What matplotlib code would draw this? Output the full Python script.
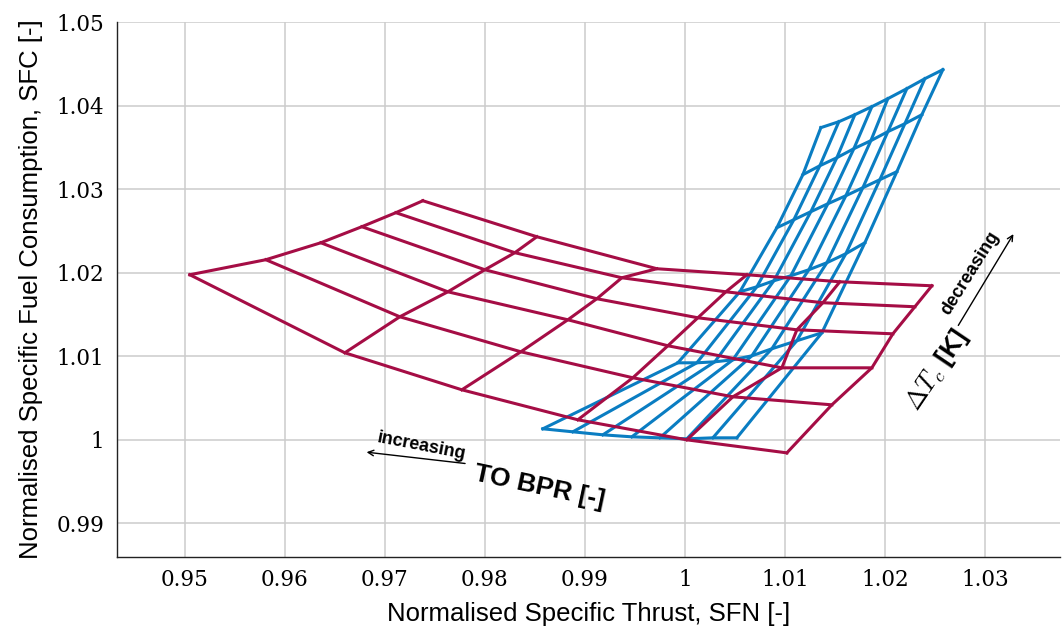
import matplotlib
matplotlib.use("Agg")
import matplotlib.pyplot as plt

# ---------------- data ----------------
# Red carpet (TO BPR / dTc grid): rows r0..r5 (top -> bottom), 6 nodes each
red_sfn = [
    [0.9738, 0.9852, 0.9972, 1.0062, 1.0155, 1.0247],
    [0.9711, 0.9830, 0.9937, 1.0041, 1.0138, 1.0230],
    [0.9677, 0.9800, 0.9912, 1.0013, 1.0112, 1.0208],
    [0.9636, 0.9763, 0.9883, 0.9983, 1.0097, 1.0187],
    [0.9581, 0.9715, 0.9836, 0.9948, 1.0048, 1.0147],
    [0.9505, 0.9660, 0.9777, 0.9893, 1.0002, 1.0102],
]
red_sfc = [
    [1.02862, 1.02431, 1.02048, 1.01976, 1.01892, 1.01844],
    [1.02719, 1.02240, 1.01940, 1.01772, 1.01641, 1.01593],
    [1.02551, 1.02036, 1.01689, 1.01461, 1.01317, 1.01269],
    [1.02359, 1.01772, 1.01437, 1.01126, 1.00862, 1.00862],
    [1.02156, 1.01473, 1.01054, 1.00743, 1.00515, 1.00419],
    [1.01976, 1.01042, 1.00599, 1.00240, 1.00000, 0.99844],
]

# Blue carpet: rows R0..R5 (top -> bottom), 8 nodes each
blue_sfn = [
    [1.0136, 1.0154, 1.0170, 1.0187, 1.0203, 1.0222, 1.0240, 1.0258],
    [1.0118, 1.0135, 1.0152, 1.0169, 1.0186, 1.0203, 1.0220, 1.0237],
    [1.0092, 1.0109, 1.0126, 1.0143, 1.0161, 1.0178, 1.0195, 1.0212],
    [1.0055, 1.0072, 1.0089, 1.0106, 1.0124, 1.0142, 1.0161, 1.0180],
    [0.9993, 1.0012, 1.0030, 1.0048, 1.0067, 1.0087, 1.0112, 1.0137],
    [0.9858, 0.9888, 0.9918, 0.9947, 0.9975, 1.0002, 1.0028, 1.0052],
]
blue_sfc = [
    [1.03737, 1.03808, 1.03892, 1.03988, 1.04084, 1.04204, 1.04323, 1.04431],
    [1.03174, 1.03281, 1.03377, 1.03485, 1.03581, 1.03689, 1.03784, 1.03892],
    [1.02539, 1.02635, 1.02731, 1.02826, 1.02922, 1.03018, 1.03114, 1.03210],
    [1.01772, 1.01832, 1.01904, 1.01964, 1.02036, 1.02120, 1.02228, 1.02359],
    [1.00922, 1.00922, 1.00934, 1.00958, 1.01006, 1.01090, 1.01186, 1.01281],
    [1.00132, 1.00096, 1.00060, 1.00036, 1.00024, 1.00012, 1.00024, 1.00024],
]

x_ticks = [0.95, 0.96, 0.97, 0.98, 0.99, 1.00, 1.01, 1.02, 1.03]
x_ticklabels = ["0.95", "0.96", "0.97", "0.98", "0.99", "1", "1.01", "1.02", "1.03"]
y_ticks = [0.99, 1.00, 1.01, 1.02, 1.03, 1.04, 1.05]
y_ticklabels = ["0.99", "1", "1.01", "1.02", "1.03", "1.04", "1.05"]

RED = "#A50D45"
BLUE = "#0A7DC2"

plt.rcParams["mathtext.fontset"] = "cm"

fig = plt.figure(figsize=(10.62, 6.32), dpi=100)
ax = fig.add_axes([0.110, 0.119, 0.888, 0.846])


def draw_carpet(xs, ys, color, z):
    nr = len(xs)
    nc = len(xs[0])
    for r in range(nr):
        ax.plot(xs[r], ys[r], color=color, lw=2.2, zorder=z, solid_joinstyle="miter")
    for c in range(nc):
        ax.plot([xs[r][c] for r in range(nr)], [ys[r][c] for r in range(nr)],
                color=color, lw=2.2, zorder=z, solid_joinstyle="miter")


draw_carpet(blue_sfn, blue_sfc, BLUE, 3)
draw_carpet(red_sfn, red_sfc, RED, 4)

ax.set_xlim(0.9432, 1.0375)
ax.set_ylim(0.986, 1.05)
ax.set_xticks(x_ticks)
ax.set_xticklabels(x_ticklabels)
ax.set_yticks(y_ticks)
ax.set_yticklabels(y_ticklabels)
ax.grid(True, color="#cccccc", lw=1.1, zorder=0)
ax.set_axisbelow(True)
for s in ["top", "right"]:
    ax.spines[s].set_visible(False)
for s in ["left", "bottom"]:
    ax.spines[s].set_color("#222222")
    ax.spines[s].set_linewidth(1.0)
ax.tick_params(length=0, pad=9)
for lab in ax.get_xticklabels() + ax.get_yticklabels():
    lab.set_fontfamily("DejaVu Serif")
    lab.set_fontsize(15.5)

ax.set_xlabel("Normalised Specific Thrust, SFN [-]", family="Liberation Sans",
              fontsize=18.5, labelpad=8)
ax.set_ylabel("Normalised Specific Fuel Consumption, SFC [-]", family="Liberation Sans",
              fontsize=18.5, labelpad=10)

# annotations
ax.annotate("", xy=(0.9679, 0.99856), xytext=(0.9783, 0.99713),
            arrowprops=dict(arrowstyle="->", lw=1.0, color="black"), zorder=6)
ax.text(0.9737, 0.99928, "increasing", rotation=-11, ha="center", va="center",
        family="Liberation Sans", fontweight="bold", fontsize=13, zorder=6)
ax.text(0.9855, 0.99437, "TO BPR [-]", rotation=-12, ha="center", va="center",
        family="Liberation Sans", fontweight="bold", fontsize=19, zorder=6)

ax.annotate("", xy=(1.0330, 1.02491), xytext=(1.0272, 1.01341),
            arrowprops=dict(arrowstyle="->", lw=1.0, color="black"), zorder=6)
ax.text(1.0285, 1.0200, "decreasing", rotation=58, ha="center", va="center",
        family="Liberation Sans", fontweight="bold", fontsize=13, zorder=6)
ax.text(1.0252, 1.00838, r"$\Delta T_c$ [K]", rotation=56, ha="center", va="center",
        family="Liberation Sans", fontweight="bold", fontsize=19, zorder=6)

fig.savefig("out.png", dpi=100)
